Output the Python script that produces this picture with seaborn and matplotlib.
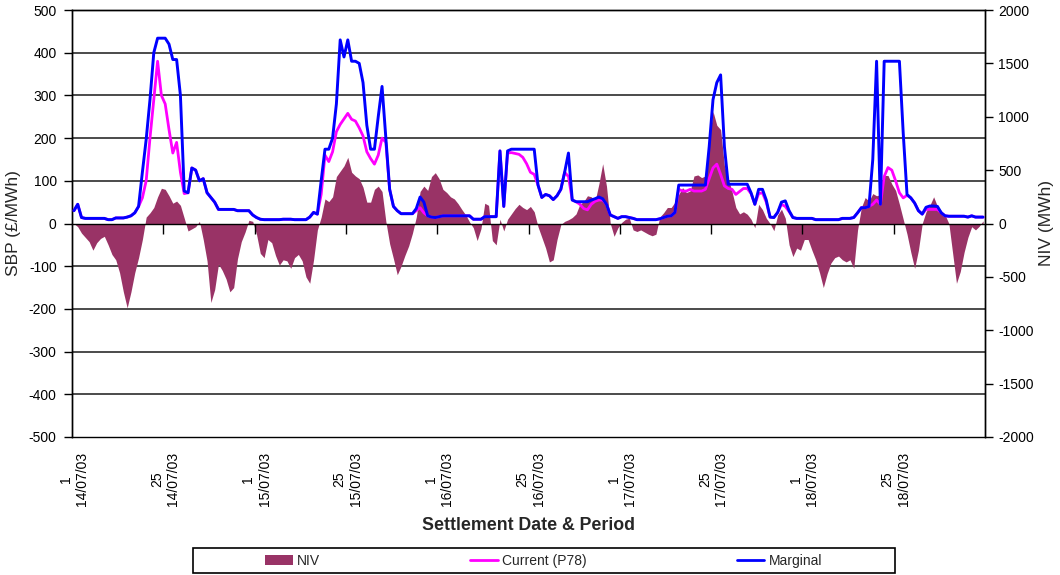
import numpy as np
import pandas as pd
import matplotlib
matplotlib.use("Agg")
import matplotlib.pyplot as plt
import seaborn as sns
from matplotlib.ticker import FixedLocator, FixedFormatter, NullFormatter, MultipleLocator
from matplotlib.patches import Patch, Rectangle
from matplotlib.lines import Line2D

# ---------------- data ----------------
dates = ["14/07/03", "15/07/03", "16/07/03", "17/07/03", "18/07/03"]
label_periods = [1, 25]
periods_per_day = 48

marginal_14 = [30, 45, 14, 12, 12, 12, 12, 12, 12, 9, 9, 13, 13, 13, 15, 18, 25, 40, 120, 197,
               290, 400, 434, 434, 434, 420, 384, 384, 300, 76, 72, 130, 125, 100, 105, 72, 61, 50, 33, 33,
               33, 33, 33, 30, 30, 30, 30, 20]
current_14 = [30, 45, 14, 12, 12, 12, 12, 12, 12, 9, 9, 13, 13, 13, 15, 18, 25, 40, 60, 100,
              200, 290, 380, 300, 280, 220, 165, 190, 120, 70, 72, 130, 125, 100, 105, 72, 61, 50, 33, 33,
              33, 33, 33, 30, 30, 30, 30, 20]
niv_14 = [0, -30, -90, -130, -170, -250, -180, -140, -120, -200, -290, -340, -460, -640, -790, -640, -460, -320, -150, 60,
          100, 150, 250, 330, 320, 260, 190, 210, 170, 50, -70, -50, -30, 20, -150, -350, -740, -620, -380, -440,
          -520, -640, -600, -330, -170, -80, 30, 20]

marginal_15 = [14, 10, 9, 9, 9, 9, 9, 10, 10, 10, 9, 9, 9, 9, 15, 26, 22, 100, 174, 174,
               200, 280, 430, 390, 430, 380, 380, 375, 330, 230, 174, 174, 250, 321, 200, 80, 40, 30, 23, 23,
               23, 23, 35, 62, 50, 18, 15, 14]
current_15 = [14, 10, 9, 9, 9, 9, 9, 10, 10, 10, 9, 9, 9, 9, 15, 26, 22, 68, 160, 145,
              168, 215, 232, 245, 258, 244, 240, 224, 205, 168, 152, 139, 160, 200, 190, 80, 40, 30, 23, 23,
              23, 23, 30, 37, 25, 18, 15, 14]
niv_15 = [-100, -280, -320, -150, -180, -300, -390, -340, -350, -420, -320, -290, -350, -500, -560, -340, -60, 60, 230, 205,
          250, 440, 490, 540, 620, 480, 445, 420, 340, 200, 200, 320, 350, 300, 20, -190, -330, -480, -400, -300,
          -210, -90, 60, 300, 350, 310, 440, 476]

marginal_16 = [16, 18, 18, 18, 18, 18, 18, 18, 18, 10, 10, 10, 16, 16, 16, 16, 170, 40, 170, 174,
               174, 174, 174, 174, 174, 174, 90, 61, 68, 65, 56, 65, 80, 120, 165, 55, 51, 51, 51, 51,
               55, 58, 62, 58, 45, 20, 16, 12]
current_16 = [16, 18, 18, 18, 18, 18, 18, 18, 18, 10, 10, 10, 16, 16, 16, 16, 170, 40, 165, 166,
              164, 162, 155, 140, 120, 115, 90, 61, 68, 65, 56, 65, 80, 120, 110, 55, 51, 45, 35, 32,
              45, 52, 55, 55, 45, 20, 16, 12]
niv_16 = [420, 320, 290, 250, 230, 185, 130, 80, 15, -40, -160, -50, 190, 170, -160, -200, 40, -70, 40, 90,
          140, 180, 150, 130, 160, 110, -30, -130, -230, -360, -340, -150, -10, 20, 35, 56, 90, 180, 205, 260,
          250, 210, 370, 560, 350, 0, -120, -40]

marginal_17 = [16, 16, 14, 12, 9, 9, 9, 9, 9, 9, 11, 14, 17, 18, 26, 90, 90, 90, 90, 90,
               90, 90, 90, 180, 290, 330, 348, 180, 92, 92, 92, 92, 92, 92, 72, 45, 80, 80, 55, 15,
               14, 26, 50, 53, 30, 14, 12, 12]
current_17 = [16, 16, 14, 12, 9, 9, 9, 9, 9, 9, 11, 14, 17, 18, 26, 80, 76, 76, 80, 76,
              76, 76, 80, 105, 130, 139, 115, 88, 82, 80, 68, 75, 82, 82, 70, 45, 70, 72, 50, 15,
              14, 26, 45, 40, 28, 14, 12, 12]
niv_17 = [10, 40, 50, -60, -75, -60, -80, -100, -115, -100, 60, 100, 150, 150, 200, 274, 336, 290, 305, 445,
          455, 430, 445, 780, 1050, 920, 880, 540, 420, 300, 150, 90, 110, 87, 40, -40, 180, 130, 50, 0,
          -68, 80, 134, 50, -200, -310, -230, -250]

marginal_18 = [12, 12, 12, 9, 9, 9, 9, 9, 9, 9, 12, 12, 12, 14, 25, 37, 37, 40, 150, 380,
               45, 380, 380, 380, 380, 380, 212, 68, 60, 48, 30, 22, 38, 41, 41, 40, 25, 18, 17, 17,
               17, 17, 17, 15, 18, 15, 15, 15]
current_18 = [12, 12, 12, 9, 9, 9, 9, 9, 9, 9, 12, 12, 12, 14, 25, 37, 37, 40, 45, 55,
              45, 110, 131, 125, 100, 72, 60, 66, 60, 48, 30, 22, 33, 33, 33, 33, 25, 18, 17, 17,
              17, 17, 17, 15, 18, 15, 15, 15]
niv_18 = [-150, -150, -250, -340, -460, -600, -470, -370, -320, -305, -340, -360, -340, -420, -60, 150, 243, 210, 280, 260,
          270, 450, 450, 370, 310, 180, 40, -100, -270, -420, -250, 0, 110, 170, 250, 160, 120, 80, 0, -280,
          -560, -450, -270, -130, -30, -60, -25, 25]

marginal = np.concatenate([marginal_14, marginal_15, marginal_16, marginal_17, marginal_18])
current = np.concatenate([current_14, current_15, current_16, current_17, current_18])
niv = np.concatenate([niv_14, niv_15, niv_16, niv_17, niv_18])
n = len(niv)
x = np.arange(n)
df = pd.DataFrame({"x": x, "NIV": niv, "Current (P78)": current, "Marginal": marginal})

# tick positions / labels
label_pos = [d * periods_per_day + (p - 1) for d in range(len(dates)) for p in label_periods]
label_txt = [f"{p}\n{dt}" for dt in dates for p in label_periods]
major_pos = [k * 24 - 0.5 for k in range(1, 2 * len(dates)) if k * 24 - 0.5 < n - 1]

# ---------------- style ----------------
sns.set_theme(style="white")
plt.rcParams["font.family"] = ["Liberation Sans", "DejaVu Sans"]
plt.rcParams["axes.unicode_minus"] = False

W, H = 1060, 575
fig = plt.figure(figsize=(W / 100, H / 100), dpi=100)
ax = fig.add_axes([72 / W, 1 - 437 / H, 913 / W, 427 / H])
ax2 = ax.twinx()
ax.set_zorder(ax2.get_zorder() + 1)
ax.patch.set_visible(False)

col_niv = "#993366"
col_cur = "#FF00FF"
col_mar = "#0000FF"

# NIV area on secondary axis
ax2.fill_between(df["x"], df["NIV"], 0, color=col_niv, lw=0, zorder=2)
ax2.set_ylim(-2000, 2000)
ax2.set_yticks(range(-2000, 2001, 500))
ax2.yaxis.set_minor_locator(MultipleLocator(400))
ax2.set_axisbelow(True)
ax2.grid(which="minor", axis="y", color="#1a1a1a", lw=1.1)
ax2.tick_params(axis="y", which="minor", length=0)
ax2.tick_params(axis="y", which="major", length=6, width=1, direction="out", pad=3.5,
                labelsize=10, colors="black", right=True)

# price lines on primary axis
sns.lineplot(data=df, x="x", y="Current (P78)", ax=ax, color=col_cur, lw=2.0, zorder=3)
sns.lineplot(data=df, x="x", y="Marginal", ax=ax, color=col_mar, lw=2.1, zorder=4)
ax.set_ylim(-500, 500)
ax.set_yticks(range(-500, 501, 100))
ax.set_xlim(-0.5, n - 0.5)
ax.set_xlabel("")
ax.set_ylabel("")
ax2.set_ylabel("")
ax.tick_params(axis="y", which="major", left=True, length=6, width=1, direction="out", pad=5,
               labelsize=10, colors="black")

# x axis: tick marks on the zero line, labels at the bottom
ax.xaxis.set_major_locator(FixedLocator(major_pos))
ax.xaxis.set_major_formatter(NullFormatter())
ax.xaxis.set_minor_locator(FixedLocator(label_pos))
ax.xaxis.set_minor_formatter(FixedFormatter(label_txt))
ax.spines["bottom"].set_position(("data", 0))
ax.tick_params(axis="x", which="major", bottom=True, length=7, width=1, direction="out",
               labelbottom=False, colors="black")
ax.tick_params(axis="x", which="minor", bottom=False, labelbottom=False)

ax2.xaxis.set_visible(True)
ax2.tick_params(axis="x", which="major", bottom=False, labelbottom=False, top=False)
ax2.tick_params(axis="x", which="minor", bottom=False, labelbottom=True, top=False, length=0,
                labelrotation=90, pad=11, labelsize=10, labelcolor="black")

for a in (ax, ax2):
    for s in a.spines.values():
        s.set_color("black")
        s.set_linewidth(1.0)

# axis titles
fig.text(14 / W, 1 - 223 / H, "SBP (£/MWh)", rotation=90, ha="center", va="center", fontsize=12.5)
fig.text(1047 / W, 1 - 223 / H, "NIV (MWh)", rotation=90, ha="center", va="center", fontsize=12.5)
fig.text(528 / W, 1 - 525 / H, "Settlement Date & Period", ha="center", va="center",
         fontsize=12.8, fontweight="bold")

# legend
handles = [Patch(facecolor=col_niv, edgecolor="none"),
           Line2D([], [], color=col_cur, lw=2.0),
           Line2D([], [], color=col_mar, lw=2.0)]
labels = ["NIV", "Current (P78)", "Marginal"]
fig.legend(handles, labels, loc="center left", bbox_to_anchor=(265 / W, 1 - 561 / H), ncol=3,
           frameon=False, fontsize=10, handlelength=2.0, handletextpad=0.3, columnspacing=10.8,
           borderpad=0, borderaxespad=0)
fig.add_artist(Rectangle((193 / W, 1 - 573 / H), (895 - 193) / W, 25 / H, transform=fig.transFigure,
                         fill=False, edgecolor="black", lw=1.2))

fig.savefig("out.png", dpi=100, facecolor="white")
